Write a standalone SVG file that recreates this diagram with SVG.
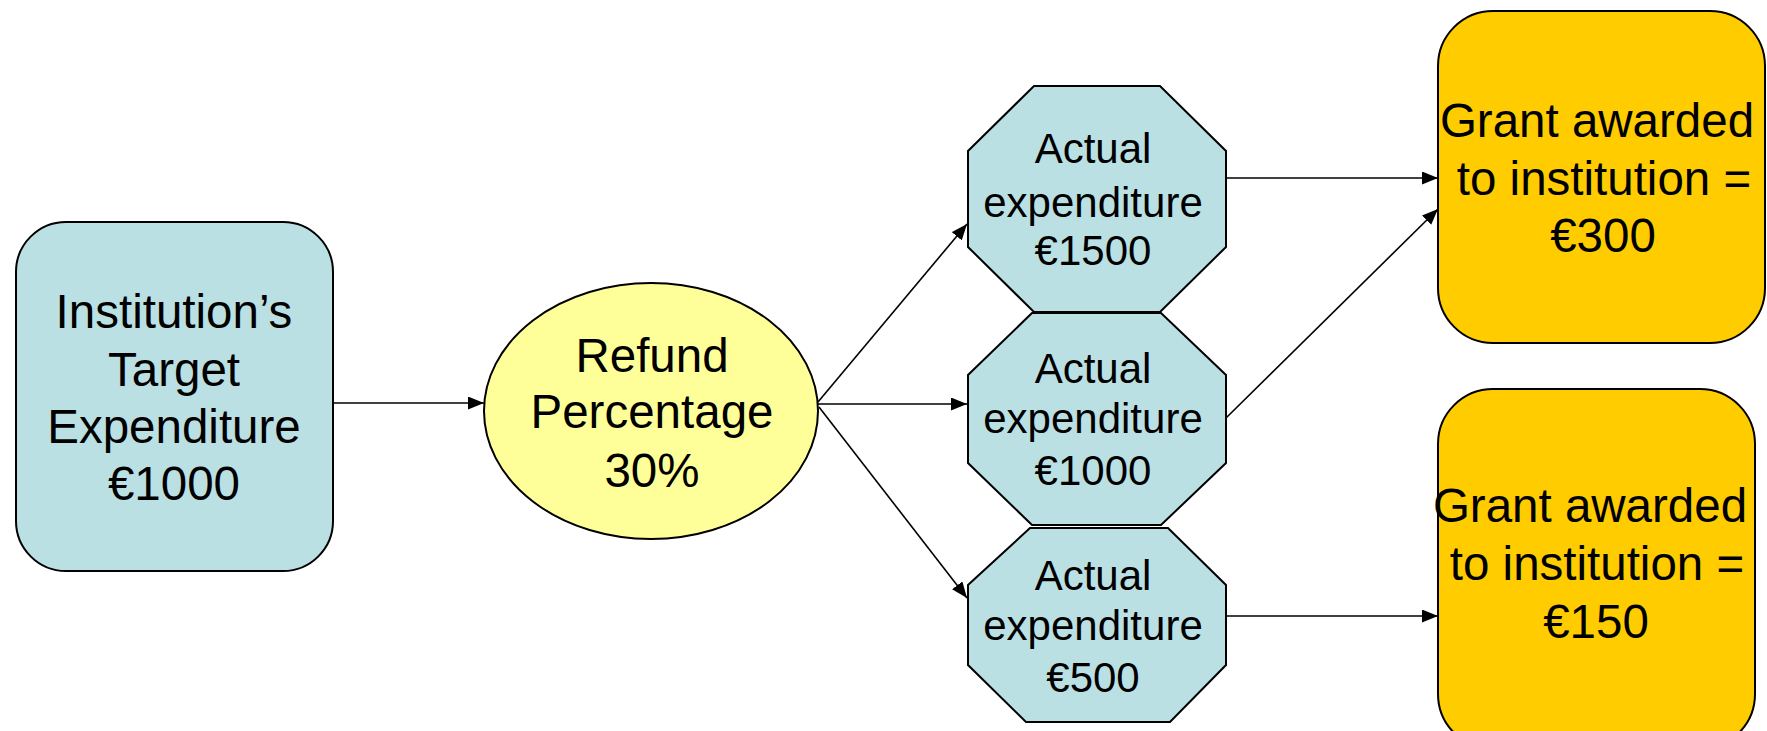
<svg xmlns="http://www.w3.org/2000/svg" width="1767" height="731" viewBox="0 0 1767 731">
<style>
  .shape { stroke: #000; stroke-width: 2; }
  .blue { fill: #BBE0E3; }
  .yellow { fill: #FFFF99; }
  .gold { fill: #FFCC00; }
  text { font-family: "Liberation Sans", Arial, sans-serif; fill: #000; text-anchor: middle; }
  .t48 { font-size: 47.5px; }
  .t42 { font-size: 42px; }
  .conn { stroke: #000; stroke-width: 1.6; fill: none; marker-end: url(#arrow); }
</style>
<defs>
  <marker id="arrow" markerUnits="userSpaceOnUse" markerWidth="16" markerHeight="13" refX="16" refY="6.5" orient="auto">
    <path d="M0,0 L16,6.5 L0,13 Z" fill="#000"/>
  </marker>
</defs>
<rect width="1767" height="731" fill="#fff"/>

<g id="connectors">
  <line class="conn" x1="333" y1="403" x2="484" y2="403"/>
  <line class="conn" x1="818" y1="402" x2="967" y2="224"/>
  <line class="conn" x1="818" y1="404" x2="967" y2="404"/>
  <line class="conn" x1="819" y1="407" x2="967" y2="598"/>
  <line class="conn" x1="1226" y1="178" x2="1438" y2="178"/>
  <line class="conn" x1="1226" y1="418" x2="1438" y2="209"/>
  <line class="conn" x1="1226" y1="616" x2="1438" y2="616"/>
</g>

<g id="target">
  <rect class="shape blue" x="16" y="222" width="317" height="349" rx="50" ry="50"/>
  <text class="t48" x="174" y="328">Institution’s</text>
  <text class="t48" x="174" y="386">Target</text>
  <text class="t48" x="174" y="443">Expenditure</text>
  <text class="t48" x="174" y="500">€1000</text>
</g>

<g id="refund">
  <ellipse class="shape yellow" cx="651" cy="411" rx="167" ry="128"/>
  <text class="t48" x="652" y="372">Refund</text>
  <text class="t48" x="652" y="428">Percentage</text>
  <text class="t48" x="652" y="487">30%</text>
</g>

<g id="actual1500">
  <polygon class="shape blue" points="1034,86 1160,86 1226,151 1226,247 1160,312 1034,312 968,247 968,151"/>
  <text class="t42" x="1093" y="163">Actual</text>
  <text class="t42" x="1093" y="217">expenditure</text>
  <text class="t42" x="1093" y="265">€1500</text>
</g>

<g id="actual1000">
  <polygon class="shape blue" points="1032,313 1161,313 1226,375 1226,463 1161,525 1032,525 968,463 968,375"/>
  <text class="t42" x="1093" y="383">Actual</text>
  <text class="t42" x="1093" y="433">expenditure</text>
  <text class="t42" x="1093" y="485">€1000</text>
</g>

<g id="actual500">
  <polygon class="shape blue" points="1030,528 1168,528 1226,585 1226,665 1170,722 1026,722 968,665 968,585"/>
  <text class="t42" x="1093" y="590">Actual</text>
  <text class="t42" x="1093" y="640">expenditure</text>
  <text class="t42" x="1093" y="692">€500</text>
</g>

<g id="grant300">
  <rect class="shape gold" x="1438" y="11" width="327" height="332" rx="55" ry="55"/>
  <text class="t48" x="1597" y="137">Grant awarded</text>
  <text class="t48" x="1604" y="195">to institution =</text>
  <text class="t48" x="1603" y="252">€300</text>
</g>

<g id="grant150">
  <rect class="shape gold" x="1438" y="389" width="317" height="360" rx="55" ry="55"/>
  <text class="t48" x="1590" y="522">Grant awarded</text>
  <text class="t48" x="1597" y="580">to institution =</text>
  <text class="t48" x="1596" y="638">€150</text>
</g>
</svg>
